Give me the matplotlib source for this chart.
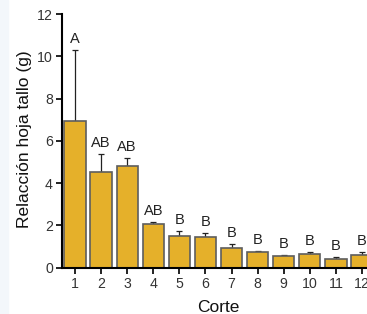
import matplotlib
matplotlib.use("Agg")
import matplotlib.pyplot as plt
import numpy as np

# Cortes y valores medios con error (solo barra superior)
cortes = ["1", "2", "3", "4", "5", "6", "7", "8", "9", "10", "11", "12"]
medias = [6.92, 4.55, 4.80, 2.07, 1.50, 1.44, 0.92, 0.73, 0.57, 0.63, 0.40, 0.59]
errores = [3.38, 0.82, 0.38, 0.08, 0.25, 0.20, 0.18, 0.05, 0.02, 0.10, 0.10, 0.14]
letras = ["A", "AB", "AB", "AB", "B", "B", "B", "B", "B", "B", "B", "B"]

plt.rcParams['font.family'] = ['Liberation Sans', 'DejaVu Sans']

fig = plt.figure(figsize=(3.67, 3.14), dpi=100)
# franja clara a la izquierda de la captura
fig.patches.append(plt.Rectangle((0, 0), 8 / 367, 1, transform=fig.transFigure,
                                 color="#f3f7fb", zorder=0))

# ejes: x=0.5 en px 62, x=12.5 en px ~375 (se sale por la derecha)
ax = fig.add_axes([62 / 367, (314 - 267.7) / 314, 313 / 367, 253.7 / 314])

x = np.arange(1, len(cortes) + 1)
ax.bar(x, medias, width=0.82, color="#e5b02a", edgecolor="#5e5e5e",
       linewidth=1.2, zorder=2)
ax.errorbar(x, medias, yerr=[np.zeros(len(errores)), errores], fmt="none",
            ecolor="#222222", elinewidth=0.9, capsize=2.5, capthick=0.9, zorder=1)

for xi, m, e, l in zip(x, medias, errores, letras):
    ax.annotate(l, (xi, m + e), xytext=(0, 3), textcoords="offset points",
                ha="center", va="bottom", fontsize=10.5, color="#222222")

ax.set_xlim(0.5, 12.5)
ax.set_ylim(0, 12)
ax.set_yticks([0, 2, 4, 6, 8, 10, 12])
ax.set_xticks(x)
ax.set_xticklabels(cortes)
ax.spines["top"].set_visible(False)
ax.spines["right"].set_visible(False)
ax.spines["left"].set_linewidth(1.5)
ax.spines["bottom"].set_linewidth(1.5)
ax.tick_params(axis="both", direction="out", length=4, width=1.3,
               labelsize=10.2, pad=2.5, colors="#111111", labelcolor="#333333")

# etiquetas de ejes colocadas en px de la figura
fig.text(218 / 367, (314 - 312) / 314, "Corte", fontsize=12.5, color="#111111",
         ha="center", va="baseline")
fig.text(25 / 367, (314 - 139) / 314, "Relacción hoja tallo (g)", fontsize=12.5,
         color="#111111", rotation=90, ha="center", va="center")

fig.savefig("out.png", dpi=100)
